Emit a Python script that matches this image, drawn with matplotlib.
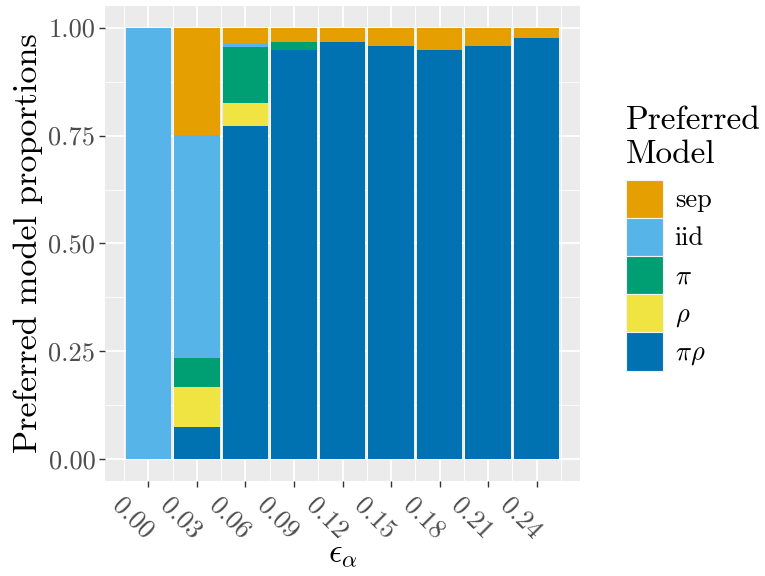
import numpy as np
import matplotlib
matplotlib.use("Agg")
import matplotlib.pyplot as plt
import matplotlib.transforms as mtransforms
from matplotlib.patches import Patch

plt.rcParams['font.family'] = 'cmr10'
plt.rcParams['mathtext.fontset'] = 'cm'
plt.rcParams['axes.unicode_minus'] = False

# data: proportion of each preferred model per epsilon_alpha
eps = [0.00, 0.03, 0.06, 0.09, 0.12, 0.15, 0.18, 0.21, 0.24]
eps_labels = ["0.00", "0.03", "0.06", "0.09", "0.12", "0.15", "0.18", "0.21", "0.24"]
models = ["sep", "iid", r"$\pi$", r"$\rho$", r"$\pi\rho$"]
pirho = [0.000, 0.075, 0.771, 0.947, 0.966, 0.957, 0.947, 0.957, 0.975]
rho   = [0.000, 0.093, 0.055, 0.000, 0.000, 0.000, 0.000, 0.000, 0.000]
pi    = [0.000, 0.066, 0.130, 0.019, 0.000, 0.000, 0.000, 0.000, 0.000]
iid   = [1.000, 0.518, 0.009, 0.000, 0.000, 0.000, 0.000, 0.000, 0.000]
sep   = [0.000, 0.248, 0.035, 0.034, 0.034, 0.043, 0.053, 0.043, 0.025]

colors = {"sep": "#E69F00", "iid": "#56B4E9", "pi": "#009E73",
          "rho": "#F0E442", "pirho": "#0072B2"}

fig = plt.figure(figsize=(7.65, 5.76), dpi=100)
ax = fig.add_axes([105/765, 1 - 481/576, 475/765, 475/576])
ax.set_facecolor("#EBEBEB")

w = 0.028
bottom = np.zeros(len(eps))
for vals, key in [(pirho, "pirho"), (rho, "rho"), (pi, "pi"), (iid, "iid"), (sep, "sep")]:
    ax.bar(eps, vals, width=w, bottom=bottom, color=colors[key], linewidth=0, zorder=3)
    bottom += np.array(vals)

ax.set_xlim(-0.02685, 0.26685)
ax.set_ylim(-0.05, 1.05)

ax.set_xticks(eps)
ax.set_xticklabels(eps_labels)
ax.set_xticks(np.arange(-0.015, 0.27, 0.03), minor=True)
ax.set_yticks([0, 0.25, 0.5, 0.75, 1.0])
ax.set_yticklabels(["0.00", "0.25", "0.50", "0.75", "1.00"])
ax.set_yticks([0.125, 0.375, 0.625, 0.875], minor=True)

ax.grid(which="major", color="white", linewidth=1.3, zorder=0)
ax.grid(which="minor", color="white", linewidth=0.6, zorder=0)
ax.set_axisbelow(True)
for s in ax.spines.values():
    s.set_visible(False)

ax.tick_params(which="major", length=4, width=1.0, color="#333333",
               labelcolor="#4D4D4D", labelsize=19, pad=3)
ax.tick_params(which="minor", length=0)

offset = mtransforms.ScaledTranslation(-16/100, -3/100, fig.dpi_scale_trans)
for lab in ax.get_xticklabels():
    lab.set_rotation(-45)
    lab.set_ha("center")
    lab.set_va("top")
    lab.set_transform(lab.get_transform() + offset)

ax.set_ylabel("Preferred model proportions", fontsize=24.5, labelpad=4)
ax.set_xlabel(r"$\epsilon_\alpha$", fontsize=24, labelpad=-2)

handles = [Patch(facecolor=colors[k], edgecolor="#F2F2F2", linewidth=0.8)
           for k in ["sep", "iid", "pi", "rho", "pirho"]]
leg = fig.legend(handles, models, loc="upper left", bbox_to_anchor=(618/765, 1 - 98/576),
                 frameon=False, fontsize=19, title="Preferred\nModel", title_fontsize=24,
                 handlelength=1.4, handleheight=1.85, labelspacing=0.0,
                 handletextpad=0.45, alignment="left", borderaxespad=0, borderpad=0.3)
leg._legend_box.sep = 8

fig.savefig("out.png", dpi=100)
